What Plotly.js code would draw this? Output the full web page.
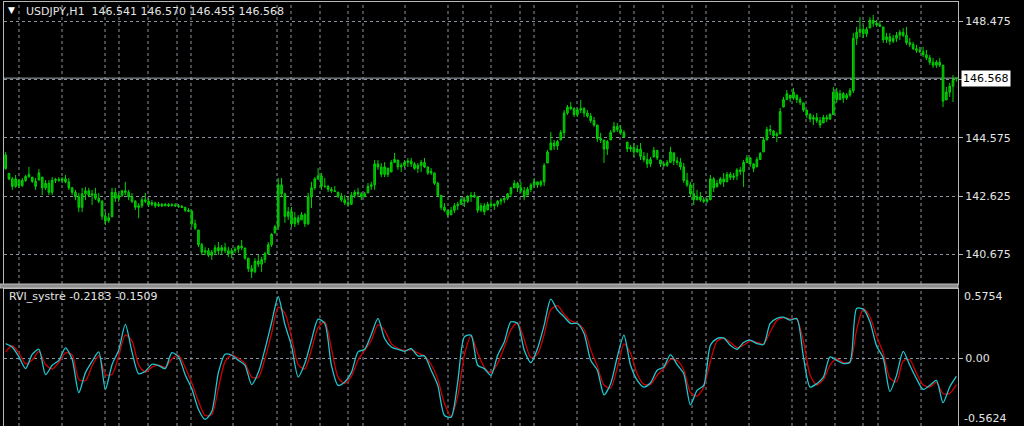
<!DOCTYPE html>
<html><head><meta charset="utf-8">
<script src="https://cdn.plot.ly/plotly-3.0.1.min.js"></script>
<style>html,body{margin:0;padding:0;background:#000;overflow:hidden}#chart{width:1024px;height:426px}</style>
</head><body><div id="chart"></div>
<script>
// ---- data ----
const symbol = 'USDJPY,H1';
const lastBar = [146.541, 146.570, 146.455, 146.568]; // O H L C
const currentPrice = 146.568;

const priceHigh = [
144.10,143.40,143.26,143.33,143.16,143.23,143.33,143.60,143.26,143.23,
143.53,143.26,143.16,143.16,143.26,143.23,143.26,143.26,143.33,143.23,
142.93,142.83,142.73,142.90,142.93,142.90,142.83,142.90,142.73,142.49,
142.09,142.06,142.90,142.90,142.73,142.83,143.10,142.83,142.73,142.49,
142.39,142.59,142.73,142.56,142.49,142.43,142.43,142.39,142.39,142.39,
142.39,142.39,142.36,142.33,142.26,142.23,142.16,141.83,141.49,141.06,
140.92,140.89,140.82,140.99,141.09,140.99,141.06,140.92,140.89,140.92,
140.99,141.16,140.89,140.55,140.32,140.55,140.66,140.59,140.76,141.09,
141.39,141.66,143.23,143.23,142.73,142.26,142.26,142.09,141.99,142.09,
142.06,142.73,143.10,143.26,143.56,143.40,143.23,143.00,142.93,142.96,
142.76,142.73,142.66,142.59,142.76,142.83,142.90,142.76,142.76,143.06,
143.10,143.83,143.83,143.73,143.76,143.56,143.83,144.07,143.83,143.73,
143.83,143.90,143.90,143.76,143.73,143.83,143.90,143.60,143.56,143.40,
143.10,142.66,142.39,142.16,142.26,142.39,142.43,142.59,142.59,142.66,
142.76,142.76,142.62,142.39,142.39,142.43,142.49,142.39,142.49,142.56,
142.59,142.73,142.93,143.16,143.10,143.10,142.93,142.93,143.06,143.23,
143.10,143.16,143.73,144.17,144.77,144.50,144.50,144.83,145.50,145.67,
145.77,145.60,145.57,145.84,145.60,145.50,145.40,145.27,145.00,144.74,
144.50,144.50,144.83,145.10,145.07,145.00,144.83,144.43,144.33,144.40,
144.33,144.40,144.10,144.07,143.93,144.27,144.17,143.83,143.76,143.83,
144.27,144.07,143.93,143.90,143.73,143.40,143.10,143.06,142.83,142.76,
142.59,142.56,143.33,143.26,143.16,143.26,143.40,143.43,143.43,143.40,
143.56,143.60,143.83,144.00,143.93,143.73,143.93,144.10,144.60,144.94,
145.00,144.83,144.77,145.57,145.94,146.17,146.00,146.24,146.00,145.94,
145.74,145.50,145.40,145.34,145.40,145.27,145.34,145.34,145.40,146.27,
146.24,146.17,146.10,146.07,146.24,148.08,148.28,148.61,148.34,148.28,
148.61,148.68,148.51,148.48,148.28,148.08,148.08,148.01,148.11,148.18,
148.24,148.28,147.91,147.78,147.68,147.61,147.61,147.51,147.34,147.24,
147.17,147.24,147.01,146.27,146.41,146.67,146.570];

const priceLow = [
143.50,143.16,142.83,142.90,142.90,142.93,143.10,143.23,143.06,142.83,
143.16,142.66,142.83,142.66,142.66,143.06,143.10,143.06,143.06,142.83,
142.66,142.49,142.09,142.09,142.49,142.59,142.33,142.49,142.39,141.83,
141.66,141.73,141.93,142.43,142.43,142.59,142.66,142.49,142.39,142.16,
141.89,142.23,142.39,142.26,142.29,142.23,142.26,142.26,142.29,142.26,
142.29,142.26,142.23,142.23,142.09,142.09,141.59,141.49,140.92,140.66,
140.66,140.59,140.49,140.66,140.66,140.66,140.72,140.59,140.55,140.72,
140.72,140.82,140.49,140.09,139.89,140.05,140.25,140.09,140.39,140.66,
140.92,141.39,141.49,142.59,141.73,141.83,141.59,141.59,141.66,141.83,
141.59,141.66,142.23,142.83,143.16,142.83,142.90,142.76,142.73,142.76,
142.56,142.43,142.33,142.26,142.33,142.56,142.59,142.49,142.59,142.73,
142.83,142.83,143.50,143.26,143.26,143.26,143.43,143.73,143.50,143.43,
143.56,143.60,143.60,143.50,143.40,143.43,143.56,143.33,143.33,143.00,
142.59,142.16,142.09,141.93,141.99,142.06,142.16,142.33,142.26,142.39,
142.43,142.56,142.06,142.09,141.99,142.16,142.23,142.16,142.26,142.33,
142.39,142.49,142.59,142.90,142.76,142.73,142.49,142.66,142.76,142.90,
142.90,142.93,142.96,143.73,144.17,144.17,144.17,144.50,144.60,145.34,
145.50,145.27,145.27,145.40,145.27,145.24,145.07,144.94,144.43,144.40,
143.73,144.00,144.50,144.77,144.77,144.67,144.57,144.10,144.10,143.93,
144.07,143.83,143.76,143.56,143.60,143.93,143.83,143.60,143.60,143.60,
143.73,143.66,143.66,143.50,143.06,142.93,142.59,142.33,142.49,142.43,
142.39,142.39,142.49,142.76,142.93,143.00,142.93,143.10,143.16,143.16,
143.16,143.33,142.93,143.73,143.60,143.43,143.60,143.83,144.10,144.50,
144.67,144.57,144.43,144.70,145.60,145.84,145.77,145.84,145.74,145.67,
145.44,145.24,145.10,145.00,145.07,144.90,145.07,145.10,145.17,145.34,
145.74,145.84,145.74,145.84,145.94,146.07,147.68,147.94,147.91,147.94,
148.24,148.28,148.28,148.28,147.74,147.74,147.68,147.74,147.78,147.84,
147.94,147.68,147.61,147.51,147.41,147.41,147.27,147.17,147.01,146.91,
146.91,146.94,145.60,145.84,145.94,145.77,146.455];

const priceOpen = [
144.00,143.38,143.20,142.95,143.16,142.98,143.15,143.28,143.26,143.12,
143.16,143.26,142.90,143.05,142.75,143.15,143.18,143.15,143.20,143.10,
142.90,142.75,142.60,142.25,142.70,142.80,142.65,142.70,142.55,142.45,
141.95,141.80,141.93,142.75,142.55,142.65,142.80,142.75,142.60,142.45,
142.25,142.30,142.50,142.45,142.35,142.40,142.30,142.35,142.30,142.35,
142.30,142.33,142.30,142.28,142.25,142.15,142.12,141.70,141.49,141.00,
140.75,140.80,140.65,140.75,140.90,140.80,140.90,140.80,140.70,140.80,
140.85,140.95,140.89,140.55,140.20,140.10,140.45,140.35,140.50,140.70,
141.00,141.39,141.60,143.00,142.70,141.95,142.10,141.70,141.90,141.83,
142.00,141.70,142.60,142.90,143.20,143.30,142.95,142.95,142.85,142.80,
142.76,142.62,142.50,142.40,142.35,142.65,142.75,142.70,142.60,142.73,
142.95,143.00,143.70,143.60,143.35,143.56,143.43,143.75,143.83,143.60,
143.65,143.75,143.80,143.70,143.55,143.65,143.75,143.60,143.40,143.40,
143.05,142.65,142.25,142.15,142.00,142.15,142.30,142.35,142.50,142.45,
142.60,142.65,142.60,142.15,142.30,142.16,142.35,142.30,142.35,142.45,
142.50,142.55,142.70,142.90,143.05,142.90,142.80,142.66,142.85,143.00,
143.10,143.00,143.10,143.73,144.17,144.40,144.30,144.50,144.75,145.40,
145.60,145.55,145.35,145.50,145.55,145.40,145.30,145.15,145.00,144.55,
144.50,144.20,144.50,144.77,144.95,144.85,144.75,144.43,144.20,144.25,
144.10,144.20,143.95,143.85,143.70,143.93,144.15,143.83,143.70,143.65,
143.75,144.07,143.80,143.75,143.60,143.15,143.00,142.70,142.50,142.60,
142.50,142.45,142.50,143.20,142.93,143.05,143.20,143.10,143.35,143.25,
143.30,143.50,143.45,143.75,143.90,143.70,143.60,143.85,144.10,144.50,
144.85,144.80,144.65,144.70,145.60,145.85,146.00,145.90,146.00,145.85,
145.74,145.50,145.35,145.20,145.25,145.15,145.07,145.25,145.20,145.35,
146.10,145.85,146.05,145.90,146.00,146.15,147.90,148.10,148.20,148.05,
148.24,148.50,148.40,148.35,148.28,147.85,147.95,147.80,147.90,148.00,
148.10,148.00,147.75,147.70,147.55,147.50,147.45,147.35,147.25,147.10,
147.00,147.10,147.00,145.84,146.10,146.30,146.541];

const priceClose = [
143.55,143.20,142.95,143.20,142.98,143.15,143.28,143.35,143.12,142.95,
143.40,142.90,143.05,142.75,143.15,143.18,143.15,143.20,143.10,142.90,
142.75,142.60,142.25,142.70,142.80,142.65,142.70,142.55,142.45,141.95,
141.80,141.90,142.75,142.55,142.65,142.80,142.75,142.60,142.45,142.25,
142.30,142.50,142.45,142.35,142.40,142.30,142.35,142.30,142.35,142.30,
142.33,142.30,142.28,142.25,142.15,142.12,141.70,141.55,141.00,140.75,
140.80,140.65,140.75,140.90,140.80,140.90,140.80,140.70,140.80,140.85,
140.95,140.90,140.55,140.20,140.10,140.45,140.35,140.50,140.70,141.00,
141.35,141.60,143.00,142.70,141.95,142.10,141.70,141.90,141.75,142.00,
141.70,142.60,142.90,143.20,143.30,142.95,142.95,142.85,142.80,142.78,
142.62,142.50,142.40,142.35,142.65,142.75,142.70,142.60,142.70,142.95,
143.00,143.70,143.60,143.35,143.60,143.35,143.75,143.85,143.60,143.65,
143.75,143.80,143.70,143.55,143.65,143.75,143.60,143.40,143.45,143.05,
142.65,142.25,142.15,142.00,142.15,142.30,142.35,142.50,142.45,142.60,
142.65,142.60,142.15,142.30,142.10,142.35,142.30,142.35,142.45,142.50,
142.55,142.70,142.90,143.05,142.90,142.80,142.60,142.85,143.00,143.10,
143.00,143.10,143.65,144.10,144.40,144.30,144.45,144.75,145.40,145.60,
145.55,145.35,145.50,145.55,145.40,145.30,145.15,145.00,144.55,144.50,
144.20,144.45,144.75,144.95,144.85,144.75,144.60,144.20,144.25,144.10,
144.20,143.95,143.85,143.70,143.85,144.15,143.90,143.70,143.65,143.75,
144.10,143.80,143.75,143.60,143.15,143.00,142.70,142.50,142.60,142.50,
142.45,142.50,143.20,142.90,143.05,143.20,143.10,143.35,143.25,143.30,
143.50,143.45,143.75,143.90,143.70,143.55,143.85,144.05,144.50,144.85,
144.80,144.65,144.70,145.45,145.85,146.05,145.90,146.10,145.85,145.75,
145.50,145.35,145.20,145.25,145.15,145.00,145.25,145.20,145.35,146.10,
145.85,146.05,145.90,146.00,146.15,147.90,148.10,148.20,148.05,148.20,
148.50,148.40,148.35,148.30,147.85,147.95,147.80,147.90,148.00,148.10,
148.00,147.75,147.70,147.55,147.50,147.45,147.35,147.25,147.10,147.00,
147.10,147.00,145.80,146.10,146.30,146.50,146.568];

const priceTickVals = [140.675, 142.625, 144.575, 146.525, 148.475];
const priceTickText = ['140.675', '142.625', '144.575', '', '148.475'];

const rviName = 'RVI_systre';
const rviLast = [-0.2183, -0.1509];
const rviMax = 0.5754, rviMin = -0.5624;
const rviStep = 2; // one indicator reading every 2 bars

const rviMain = [
0.122,0.092,0.011,-0.086,0.033,0.075,-0.136,-0.058,-0.017,0.086,
-0.008,-0.286,-0.119,-0.025,0.053,-0.258,-0.053,0.067,0.281,0.053,
-0.128,-0.108,-0.050,-0.060,-0.086,0.047,0.011,-0.136,-0.253,-0.425,
-0.508,-0.442,-0.119,0.033,0.025,-0.017,-0.058,-0.219,-0.119,0.075,
0.297,0.511,0.281,0.103,-0.156,-0.044,0.150,0.325,
0.289,-0.058,-0.225,-0.197,-0.119,0.053,0.075,0.197,0.331,0.164,
0.094,0.075,0.058,0.081,0.019,0.019,-0.100,-0.225,-0.475,-0.489,
-0.197,0.178,0.192,-0.058,-0.086,-0.142,0.025,0.136,0.303,0.289,
0.067,-0.036,0.081,0.275,0.492,0.400,0.344,0.289,0.289,0.206,
-0.017,-0.100,-0.303,-0.211,0.011,0.192,-0.058,-0.183,
-0.239,-0.203,-0.100,-0.072,0.031,-0.053,-0.128,-0.386,-0.267,-0.225,
0.108,0.164,0.169,0.108,0.075,0.131,0.150,0.122,0.114,0.289,
0.331,0.342,0.317,0.331,0.011,-0.239,-0.211,-0.156,0.011,-0.017,
-0.044,-0.031,0.414,0.408,0.303,0.103,0.003,-0.275,-0.142,0.058,
-0.058,-0.169,-0.258,-0.225,-0.183,-0.369,-0.239,-0.1509];

const rviSignal = [
0.053,0.104,0.043,-0.047,-0.015,0.058,-0.052,-0.089,-0.033,0.045,
0.030,-0.175,-0.186,-0.063,0.022,-0.134,-0.135,0.019,0.195,0.144,
-0.056,-0.116,-0.073,-0.056,-0.076,-0.006,0.026,-0.077,-0.206,-0.356,
-0.475,-0.468,-0.248,-0.028,0.028,0.000,-0.042,-0.155,-0.159,-0.003,
0.208,0.425,0.373,0.174,-0.052,-0.089,0.072,0.255,
0.303,0.081,-0.158,-0.208,-0.150,-0.016,0.066,0.148,0.277,0.231,
0.122,0.083,0.065,0.072,0.044,0.019,-0.052,-0.175,-0.375,-0.483,
-0.314,0.028,0.186,0.042,-0.075,-0.120,-0.042,0.092,0.236,0.295,
0.156,0.005,0.034,0.198,0.405,0.437,0.366,0.311,0.289,0.239,
0.072,-0.067,-0.222,-0.248,-0.078,0.120,0.042,-0.133,
-0.217,-0.217,-0.141,-0.083,-0.010,-0.019,-0.098,-0.283,-0.315,-0.242,
-0.025,0.142,0.167,0.133,0.088,0.109,0.142,0.133,0.117,0.219,
0.314,0.338,0.327,0.325,0.139,-0.139,-0.222,-0.178,-0.056,-0.006,
-0.033,-0.036,0.236,0.410,0.345,0.183,0.043,-0.164,-0.195,-0.022,
-0.012,-0.125,-0.222,-0.238,-0.200,-0.295,-0.291,-0.2183];

// ---- layout helpers (pixel geometry of the MT4 window) ----
const W = 1024, H = 426;
const M = {l: 4, r: 66, t: 2, b: 0};
const px2x = p => (p - M.l) / (W - M.l - M.r);
const px2y = p => (H - M.b - p) / (H - M.t - M.b);
const gridPx = [19,62,105,119,148,177,191,233,277,291,320,348,363,405,448,463,491,520,534,577,620,634,663,692,706,749,792,806,835,863,878,921];
const topDomain = [px2y(284), 1];
const botDomain = [0, px2y(289)];

const gridColor = '#8b949e';
const textColor = '#e4e4e4';
const FONT = 'DejaVu Sans, Verdana, sans-serif';

const nBars = priceClose.length;
const barX = priceClose.map((_, i) => i);
const rviX = rviMain.map((_, k) => k * rviStep);

const traces = [
  {type: 'candlestick', x: barX, open: priceOpen, high: priceHigh, low: priceLow, close: priceClose,
   xaxis: 'x', yaxis: 'y', whiskerwidth: 0,
   increasing: {line: {color: '#00d400', width: 1}, fillcolor: '#00a000'},
   decreasing: {line: {color: '#00d400', width: 1}, fillcolor: '#00a000'},
   hoverinfo: 'skip', showlegend: false},
  {type: 'scatter', mode: 'lines', x: rviX, y: rviSignal, xaxis: 'x2', yaxis: 'y2',
   line: {color: '#d00000', width: 1.3, shape: 'spline', smoothing: 0.7}, hoverinfo: 'skip', showlegend: false},
  {type: 'scatter', mode: 'lines', x: rviX, y: rviMain, xaxis: 'x2', yaxis: 'y2',
   line: {color: '#1ec8d2', width: 1.3, shape: 'spline', smoothing: 0.7}, hoverinfo: 'skip', showlegend: false}
];

const shapes = [];
gridPx.forEach(p => {
  [topDomain, botDomain].forEach(d => {
    shapes.push({type: 'line', xref: 'paper', yref: 'paper', x0: px2x(p), x1: px2x(p), y0: d[0], y1: d[1],
      line: {color: gridColor, width: 1, dash: '3px,3px'}, layer: 'below'});
  });
});
shapes.push({type: 'line', xref: 'paper', yref: 'y', x0: 0, x1: 1, y0: currentPrice, y1: currentPrice,
  line: {color: '#a8adb3', width: 1}, layer: 'below'});
shapes.push({type: 'rect', xref: 'paper', yref: 'paper', x0: px2x(0), x1: 1, y0: px2y(288), y1: px2y(284),
  fillcolor: '#8e8e8e', line: {color: '#bdbdbd', width: 1}, layer: 'above'});

const fmt = v => v.toFixed(3);
const annotations = [
  {xref: 'paper', yref: 'paper', x: px2x(6), y: px2y(10), xanchor: 'left', yanchor: 'middle', showarrow: false,
   text: '▼', font: {family: FONT, size: 9, color: '#ffffff'}},
  {xref: 'paper', yref: 'paper', x: px2x(24), y: px2y(11), xanchor: 'left', yanchor: 'middle', showarrow: false,
   text: symbol + '\u00a0\u00a0' + lastBar.map(fmt).join(' '), font: {family: FONT, size: 11, color: textColor}},
  {xref: 'paper', yref: 'y', x: 1, y: currentPrice, xanchor: 'left', yanchor: 'middle', xshift: 3, showarrow: false,
   text: fmt(currentPrice), bgcolor: '#ffffff', borderpad: 1, font: {family: FONT, size: 11, color: '#000000'}},
  {xref: 'paper', yref: 'paper', x: px2x(7), y: px2y(297), xanchor: 'left', yanchor: 'middle', showarrow: false,
   text: rviName + ' ' + rviLast.map(v => v.toFixed(4)).join(' '), font: {family: FONT, size: 11, color: textColor}},
  {xref: 'paper', yref: 'paper', x: 1, y: px2y(296), xanchor: 'left', yanchor: 'middle', xshift: 4, showarrow: false,
   text: rviMax.toFixed(4), font: {family: FONT, size: 11, color: textColor}},
  {xref: 'paper', yref: 'paper', x: 1, y: px2y(418), xanchor: 'left', yanchor: 'middle', xshift: 4, showarrow: false,
   text: rviMin.toFixed(4), font: {family: FONT, size: 11, color: textColor}}
];

const axisLine = '#b8b8b8';
const layout = {
  width: W, height: H, margin: M,
  paper_bgcolor: '#000000', plot_bgcolor: '#000000',
  font: {family: FONT, size: 11, color: textColor},
  showlegend: false, dragmode: false,
  xaxis: {domain: [0, 1], anchor: 'y', range: [-0.5, nBars - 0.5], showticklabels: false, showgrid: false, zeroline: false,
    ticks: '', showline: true, mirror: true, linecolor: axisLine, linewidth: 1, rangeslider: {visible: false}, fixedrange: true},
  yaxis: {domain: topDomain, anchor: 'x', range: [139.686, 149.113], side: 'right', tickmode: 'array',
    tickvals: priceTickVals, ticktext: priceTickText, showgrid: true, gridcolor: gridColor, griddash: '3px,3px', gridwidth: 1,
    zeroline: false, ticks: 'outside', ticklen: 4, tickcolor: axisLine, showline: true, mirror: true, linecolor: axisLine,
    tickfont: {family: FONT, size: 11, color: textColor}, fixedrange: true},
  xaxis2: {domain: [0, 1], anchor: 'y2', range: [-0.5, nBars - 0.5], showticklabels: false, showgrid: false, zeroline: false,
    ticks: '', showline: true, mirror: true, linecolor: axisLine, fixedrange: true},
  yaxis2: {domain: botDomain, anchor: 'x2', range: [rviMin, rviMax], side: 'right', tickmode: 'array',
    tickvals: [0], ticktext: ['0.00'], showgrid: true, gridcolor: gridColor, griddash: '3px,3px', zeroline: false,
    ticks: 'outside', ticklen: 4, tickcolor: axisLine, showline: true, mirror: true, linecolor: axisLine,
    tickfont: {family: FONT, size: 11, color: textColor}, fixedrange: true},
  shapes: shapes,
  annotations: annotations
};

Plotly.newPlot('chart', traces, layout, {displayModeBar: false, staticPlot: true});
</script>
</body></html>
